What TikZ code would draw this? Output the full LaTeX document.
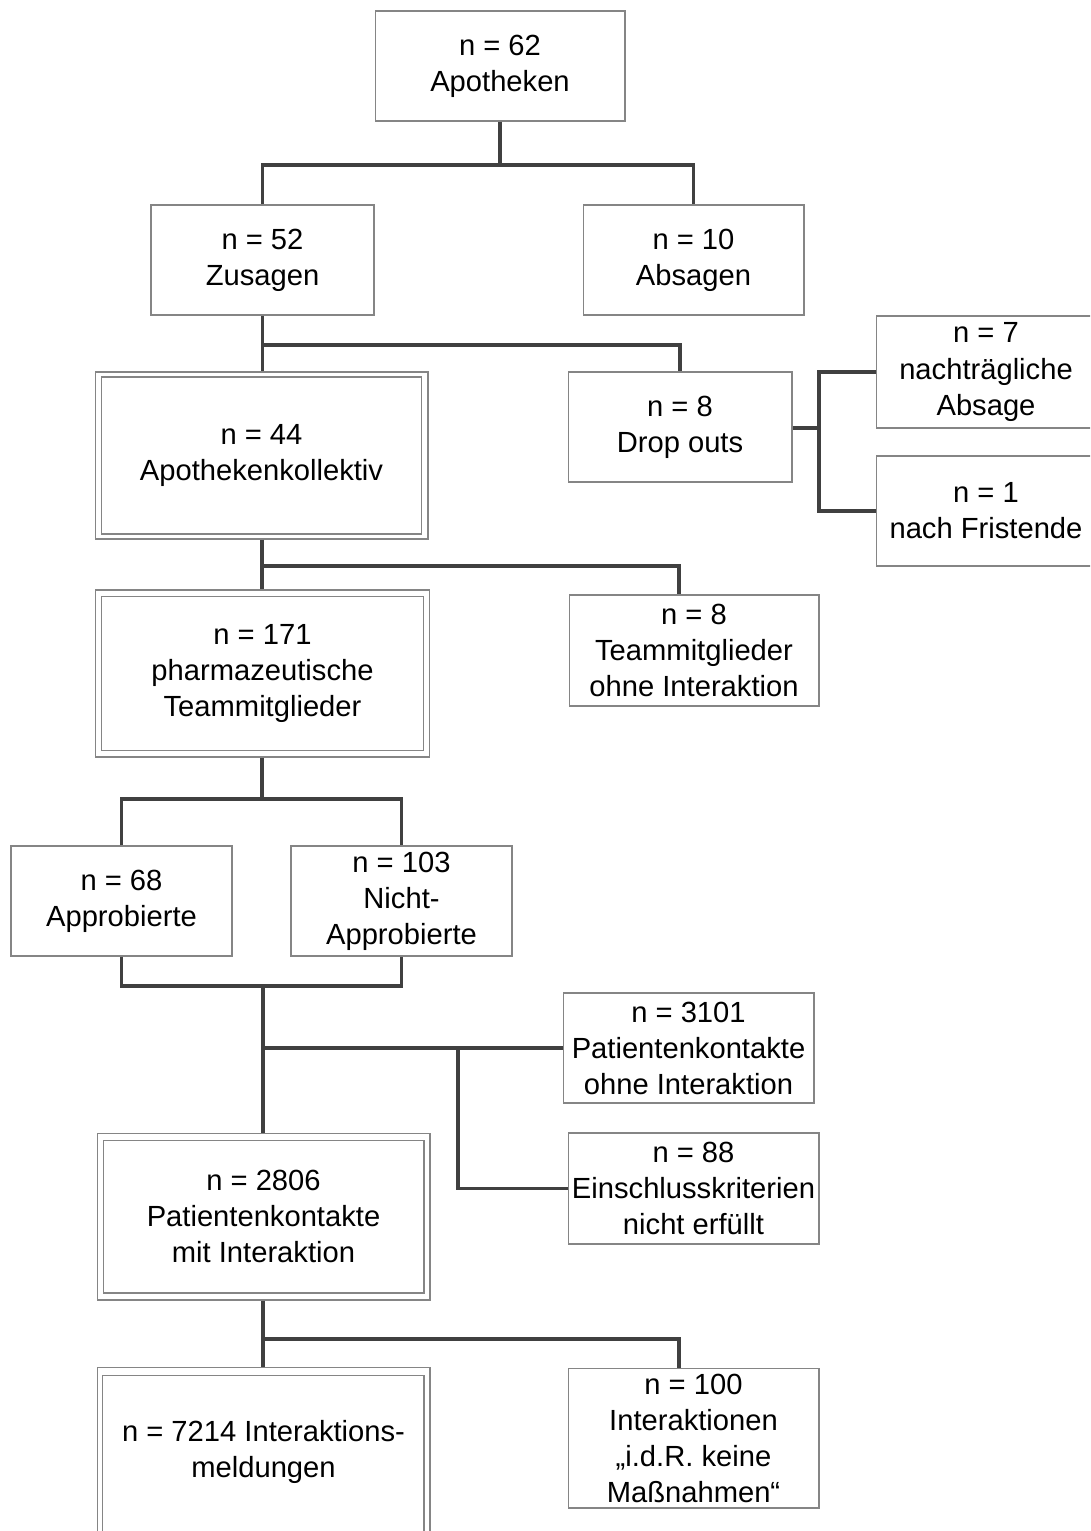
\documentclass[tikz,border=0pt]{standalone}
\usepackage{fontspec}
\setmainfont{Liberation Sans}
\definecolor{boxline}{HTML}{858585}
\definecolor{linkline}{HTML}{404040}
\tikzset{
  box/.style={draw=boxline, line width=0.6pt, inner sep=0pt, align=center,
    font=\fontsize{16.6}{20.5}\selectfont},
  txt/.style={inner sep=0pt, align=center, font=\fontsize{16.6}{20.5}\selectfont},
  frame/.style={draw=boxline, line width=0.6pt, inner sep=0pt},
  conn/.style={draw=linkline, line width=1.9pt, line join=miter},
}
\begin{document}
\begin{tikzpicture}[x=0.02cm, y=-0.02cm]
\clip (0,0) rectangle (1090,1531);
\fill[white] (0,0) rectangle (1090,1531);

% pharmacies
\node[box, minimum width=5cm, minimum height=2.2cm] (apo) at (500,66) {n = 62\\Apotheken};
\node[box, minimum width=4.46cm, minimum height=2.2cm] (zus) at (262.5,260) {n = 52\\Zusagen};
\node[box, minimum width=4.42cm, minimum height=2.2cm] (abs) at (693.5,260) {n = 10\\Absagen};

% pharmacy collective (double frame)
\node[frame, minimum width=6.66cm, minimum height=3.34cm] (kollO) at (261.5,455.5) {};
\node[box, minimum width=6.4cm, minimum height=3.14cm] (koll) at (kollO) {n = 44\\Apothekenkollektiv};

% drop outs
\node[box, minimum width=4.48cm, minimum height=2.2cm] (drop) at (680,427) {n = 8\\Drop outs};
\node[box, minimum width=4.4cm, minimum height=2.24cm] (nachabs) at (986,372) {n = 7\\nachträgliche\\Absage};
\node[box, minimum width=4.4cm, minimum height=2.2cm] (frist) at (986,511) {n = 1\\nach Fristende};

% team members (double frame)
\node[frame, minimum width=6.7cm, minimum height=3.34cm] (teamO) at (262.5,673.5) {};
\node[box, minimum width=6.44cm, minimum height=3.08cm] (team) at (teamO) {n = 171\\pharmazeutische\\Teammitglieder};
\node[box, minimum width=5cm, minimum height=2.22cm] (teamohne) at (694,650.5) {n = 8\\Teammitglieder\\ohne Interaktion};

% qualification
\node[box, minimum width=4.42cm, minimum height=2.2cm] (appr) at (121.5,901) {n = 68\\Approbierte};
\node[box, minimum width=4.42cm, minimum height=2.2cm] (nappr) at (401.5,901) {n = 103\\Nicht-\\Approbierte};

% patient contacts
\node[box, minimum width=5.02cm, minimum height=2.2cm] (ohneint) at (688.5,1048) {n = 3101\\Patientenkontakte\\ohne Interaktion};
\node[box, minimum width=5.02cm, minimum height=2.22cm] (einschl) at (693.5,1188.5) {n = 88\\Einschlusskriterien\\nicht erfüllt};
\node[frame, minimum width=6.66cm, minimum height=3.34cm] (kontO) at (263.5,1216.5) {};
\node[box, minimum width=6.42cm, minimum height=3.06cm] (kont) at (kontO) {n = 2806\\Patientenkontakte\\mit Interaktion};

% interaction reports
\node[box, minimum width=5.02cm, minimum height=2.8cm] (keine) at (693.5,1438) {n = 100\\Interaktionen\\„i.d.R. keine\\Maßnahmen“};
\node[frame, minimum width=6.66cm, minimum height=3.5cm] (meldO) at (263.5,1455) {};
\node[frame, minimum width=6.44cm, minimum height=3.3cm] (meldI) at (263,1457.5) {};
\node[txt] (meld) at (263.5,1452) {n = 7214 Interaktions-\\meldungen};

% junction points
\coordinate (j1) at (500,165);
\coordinate (j2) at (262.5,345);
\coordinate (j3) at (819,428);
\coordinate (j4) at (262,566);
\coordinate (j5) at (262,799);
\coordinate (j6) at (263,986);
\coordinate (j7) at (263,1048);
\coordinate (j8) at (458,1048);
\coordinate (j9) at (263,1339);
\coordinate (rx) at (679,0);

% connectors
\draw[conn] (apo.south) -- (j1);
\draw[conn] (zus.north) |- (j1) -| (abs.north);

\draw[conn] (zus.south) -- (zus.south |- kollO.north);
\draw[conn] (j2) -| (drop.north);

\draw[conn] (drop.east |- j3) -- (j3);
\draw[conn] (nachabs.west) -| (j3) |- (frist.west);

\draw[conn] (j4 |- kollO.south) -- (j4 |- teamO.north);
\draw[conn] (j4) -| (teamohne.north -| rx);

\draw[conn] (j4 |- teamO.south) -- (j5);
\draw[conn] (appr.north) |- (j5) -| (nappr.north);

\draw[conn] (appr.south) |- (j6) -| (nappr.south);
\draw[conn] (j6) -- (j6 |- kontO.north);
\draw[conn] (j7) -- (j7 -| ohneint.west);
\draw[conn] (j8) |- (einschl.west);

\draw[conn] (j9 |- kontO.south) -- (j9 |- meldO.north);
\draw[conn] (j9) -| (keine.north -| rx);
\end{tikzpicture}
\end{document}
